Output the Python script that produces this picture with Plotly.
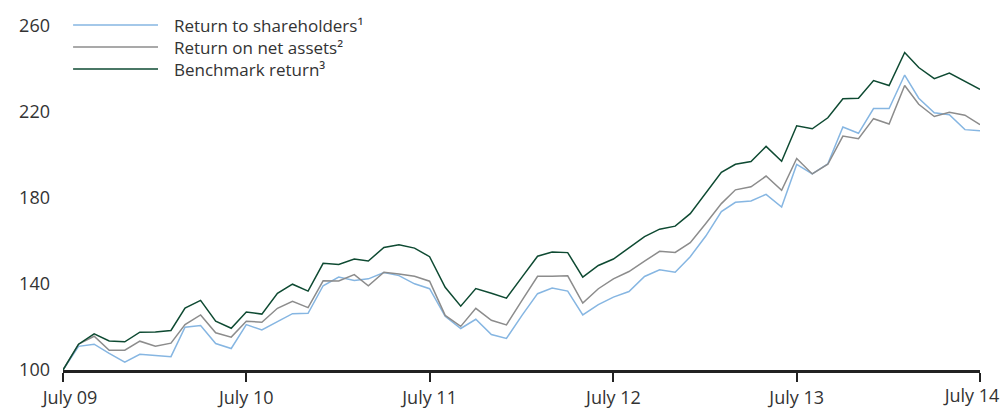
import plotly.graph_objects as go
import pandas as pd

months = pd.date_range("2009-07-01", periods=61, freq="MS")

shareholders = [100, 111.0, 112.0, 107.7, 103.7, 107.3, 106.8, 106.2, 119.9, 120.7,
                112.3, 110.0, 121.1, 118.6, 122.5, 126.2, 126.4, 139.2, 143.2, 141.6,
                142.4, 145.3, 143.9, 140.1, 137.8, 125.0, 119.3, 123.6, 116.5, 114.7,
                125.4, 135.5, 138.1, 136.7, 125.6, 130.4, 133.9, 136.5, 143.5, 146.6,
                145.5, 152.7, 162.3, 173.7, 178.0, 178.6, 181.7, 175.8, 195.6, 191.2,
                195.9, 213.0, 210.1, 221.6, 221.6, 237.2, 226.4, 219.6, 218.7, 211.8, 211.3]

net_assets = [100, 112.0, 115.7, 109.2, 109.2, 113.4, 111.1, 112.5, 121.1, 125.6,
              117.3, 115.3, 122.7, 122.2, 128.7, 131.9, 129.0, 141.5, 141.4, 144.4,
              139.2, 145.5, 144.7, 143.6, 141.3, 125.4, 120.3, 128.7, 123.1, 121.0,
              132.4, 143.6, 143.6, 143.8, 131.1, 137.8, 142.4, 145.8, 150.6, 155.2,
              154.7, 159.2, 168.1, 177.4, 183.8, 185.2, 190.2, 183.6, 198.4, 191.2,
              195.7, 208.8, 207.6, 216.9, 214.4, 232.3, 223.6, 217.9, 219.9, 218.5, 214.1]

benchmark = [100, 112.0, 116.8, 113.5, 113.1, 117.6, 117.7, 118.4, 128.8, 132.4,
             122.7, 119.4, 127.0, 126.0, 135.7, 139.9, 136.7, 149.6, 149.1, 151.6,
             150.7, 157.0, 158.3, 156.7, 152.7, 138.5, 129.7, 137.9, 135.7, 133.4,
             143.2, 152.9, 154.9, 154.6, 143.2, 148.6, 151.6, 156.7, 162.0, 165.5,
             166.9, 172.7, 182.2, 191.9, 195.7, 197.0, 204.0, 197.1, 213.6, 212.2,
             217.3, 226.2, 226.4, 234.6, 232.3, 247.7, 240.7, 235.5, 238.1, 234.1, 230.5]

series_names = ["Return to shareholders\u00b9", "Return on net assets\u00b2", "Benchmark return\u00b3"]
series_colors = ["#86B6E2", "#8C8C8C", "#0E4A32"]

x_tick_vals = pd.to_datetime(["2009-07-01", "2010-07-01", "2011-07-01",
                              "2012-07-01", "2013-07-01", "2014-07-01"])
x_tick_text = ["July 09", "July 10", "July 11", "July 12", "July 13", "July 14"]
y_tick_vals = [100, 140, 180, 220, 260]

FONT = "Open Sans"
TXT = "#333333"
LEG_SIZE = 17

W, H = 1000, 401          # page body adds an 8 px margin
M_L, M_R, M_T, M_B = 55, 28, 18, 39
plot_h = H - M_T - M_B

# first label nudged right with non-breaking-space padding (as in the original);
# last label drawn by an overlaid axis shifted left so it stays inside the page
NB = "\u00a0"
main_labels = list(x_tick_text)
main_labels[0] = NB * 3 + main_labels[0]
main_labels[-1] = ""

fig = go.Figure()
for name, vals, col in zip(series_names, [shareholders, net_assets, benchmark], series_colors):
    fig.add_trace(go.Scatter(x=months, y=vals, mode="lines", name=name,
                             line=dict(color=col, width=1.5), showlegend=False))

# empty trace so that the overlaid label axis is drawn
fig.add_trace(go.Scatter(x=[months[0], months[-1]], y=[None, None], xaxis="x2",
                         mode="lines", showlegend=False, hoverinfo="skip"))

# custom legend: long line samples + one multi-line text block
row_gap = 1.3 * LEG_SIZE / plot_h
center_y = (plot_h - (47 - 8 - M_T)) / plot_h
for k, col in enumerate(series_colors):
    yy = center_y + (1 - k) * row_gap
    fig.add_shape(type="line", xref="paper", yref="paper", x0=0.011, x1=0.1036,
                  y0=yy, y1=yy, line=dict(color=col, width=1.5))
fig.add_annotation(xref="paper", yref="paper", x=0.1189, y=center_y,
                   text="<br>".join(series_names), align="left",
                   showarrow=False, xanchor="left", yanchor="middle",
                   font=dict(family=FONT, size=LEG_SIZE, color=TXT))

# thin light-blue rule at the left edge of the page
fig.add_shape(type="line", xref="paper", yref="paper", x0=-0.0676, x1=-0.0676,
              y0=-0.2, y1=1.2, line=dict(color="#A6CFEA", width=2))

fig.update_layout(
    width=W, height=H,
    margin=dict(l=M_L, r=M_R, t=M_T, b=M_B),
    paper_bgcolor="white", plot_bgcolor="white",
    font=dict(family=FONT, size=18, color=TXT),
    xaxis=dict(
        range=[months[0], months[-1]],
        tickvals=x_tick_vals, ticktext=main_labels,
        showgrid=False, zeroline=False, automargin=False,
        showline=True, linecolor="#222222", linewidth=3,
        ticks="outside", ticklen=9, tickwidth=2, tickcolor="#222222",
        tickfont=dict(family=FONT, size=18, color=TXT),
    ),
    xaxis2=dict(
        overlaying="x", anchor="y", side="bottom",
        range=[months[0], months[-1]],
        tickvals=[x_tick_vals[-1]], ticktext=[x_tick_text[-1]],
        showgrid=False, zeroline=False, automargin=False, showline=False,
        ticks="outside", ticklen=9, tickwidth=2, tickcolor="rgba(0,0,0,0)",
        ticklabelshift=-8, ticklabeloverflow="allow",
        tickfont=dict(family=FONT, size=18, color=TXT),
    ),
    yaxis=dict(
        range=[100, 260],
        tickvals=y_tick_vals, automargin=False,
        showgrid=False, zeroline=False, showline=False,
        ticks="", ticklabelstandoff=12,
        tickfont=dict(family=FONT, size=18, color=TXT),
    ),
)

fig.write_html("out.html")
